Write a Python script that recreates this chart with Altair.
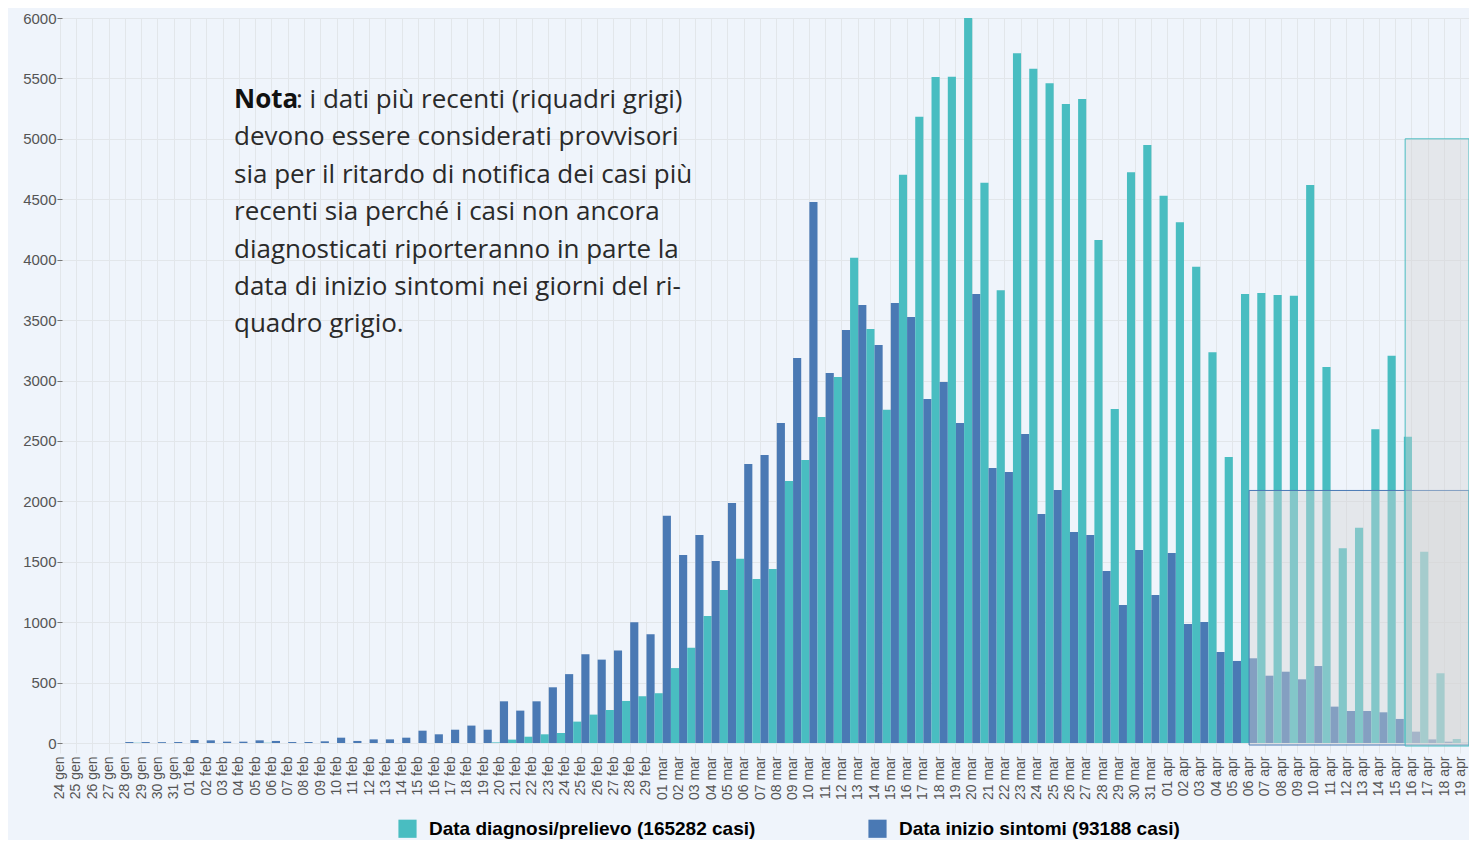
import altair as alt
import pandas as pd

# ---- categories (24 gen .. 19 apr 2020) ----
months = [("gen", 24, 31), ("feb", 1, 29), ("mar", 1, 31), ("apr", 1, 19)]
dates = [f"{d:02d} {m}" for m, a, b in months for d in range(a, b + 1)]

# ---- series values ----
diagnosi_gen = [0, 0, 0, 0, 0, 2, 0, 0]
diagnosi_feb = [0, 0, 0, 0, 0, 2, 0, 0, 0, 0, 0, 0, 0, 0, 0, 0, 0, 0, 0,
                5, 28, 52, 72, 83, 177, 235, 273, 348, 387]
diagnosi_mar = [412, 620, 788, 1052, 1267, 1525, 1358, 1440, 2168, 2342,
                2698, 3029, 4016, 3427, 2757, 4703, 5182, 5512, 5514, 6000,
                4636, 3746, 5708, 5581, 5460, 5288, 5330, 4163, 2765, 4723, 4949]
diagnosi_apr = [4530, 4309, 3942, 3233, 2367, 3716, 3724, 3708, 3702, 4618,
                3112, 1611, 1782, 2596, 3205, 2535, 1583, 577, 33]

sintomi_gen = [0, 0, 0, 0, 8, 8, 7, 8]
sintomi_feb = [25, 22, 11, 11, 22, 17, 8, 8, 14, 44, 17, 30, 30, 44, 102, 72, 110, 144, 110,
               345, 268, 345, 461, 570, 735, 690, 765, 1000, 900]
sintomi_mar = [1880, 1556, 1721, 1506, 1986, 2309, 2383, 2648, 3186, 4477,
               3062, 3418, 3625, 3294, 3641, 3526, 2847, 2988, 2648, 3716,
               2276, 2243, 2557, 1895, 2094, 1746, 1721, 1423, 1142, 1597, 1225]
sintomi_apr = [1572, 985, 1001, 753, 679, 701, 557, 590, 527, 637,
               301, 265, 265, 254, 199, 94, 30, 11, 2]

diagnosi = diagnosi_gen + diagnosi_feb + diagnosi_mar + diagnosi_apr
sintomi = sintomi_gen + sintomi_feb + sintomi_mar + sintomi_apr

series_names = ["Data diagnosi/prelievo (165282 casi)", "Data inizio sintomi (93188 casi)"]
series_colors = ["#49BDC1", "#4A79B4"]

y_ticks = list(range(0, 6001, 500))

nota_bold = "Nota"
nota_first = ": i dati più recenti (riquadri grigi)"
nota_rest = [
    "devono essere considerati provvisori",
    "sia per il ritardo di notifica dei casi più",
    "recenti sia perché i casi non ancora",
    "diagnosticati riporteranno in parte la",
    "data di inizio sintomi nei giorni del ri-",
    "quadro grigio.",
]

box_sintomi = {"start": "06 apr", "top": 2090}
box_diagnosi = {"start": "16 apr", "top": 5000}

rows = []
for i, d in enumerate(dates):
    rows.append({"data": d, "serie": series_names[0], "casi": diagnosi[i], "ord": 0})
    rows.append({"data": d, "serie": series_names[1], "casi": sintomi[i], "ord": 1})
df = pd.DataFrame(rows)

W, H = 1417, 725
BG = "#EFF4FB"
GRID = "#E2E6EA"

x_scale = alt.Scale(domain=dates, paddingInner=0, paddingOuter=0)
y_scale = alt.Scale(domain=[0, 6000], nice=False)

bars = alt.Chart(df).mark_bar().encode(
    x=alt.X("data:N", scale=x_scale, sort=dates,
            axis=alt.Axis(title=None, labelAngle=270, labelFontSize=14, labelFont="Liberation Sans",
                          labelColor="#555555", grid=True, gridColor=GRID, tickBand="center",
                          tickSize=10, tickColor=GRID, domain=False, labelPadding=3)),
    xOffset=alt.XOffset("serie:N", sort=series_names, scale=alt.Scale(paddingInner=0, paddingOuter=0)),
    y=alt.Y("casi:Q", scale=y_scale,
            axis=alt.Axis(title=None, values=y_ticks, format="d", labelFontSize=15,
                          labelFont="Liberation Sans", labelColor="#555555", grid=True,
                          gridColor=GRID, domain=False, tickSize=5, tickColor="#777777",
                          labelPadding=1, offset=-10)),
    color=alt.Color("serie:N", sort=series_names,
                    scale=alt.Scale(domain=series_names, range=series_colors),
                    legend=alt.Legend(title=None, orient="none", legendX=346, legendY=801,
                                      direction="horizontal", symbolType="square", symbolSize=330,
                                      symbolStrokeWidth=0, symbolOpacity=1,
                                      labelFont="Liberation Sans", labelFontSize=19,
                                      labelFontWeight="bold", labelColor="#000000",
                                      labelOffset=12, columnPadding=112, labelLimit=700)),
    order=alt.Order("ord:Q"),
)

box_blue = alt.Chart(pd.DataFrame([box_sintomi])).mark_rect(
    fill="#D4D4D4", fillOpacity=0.42, stroke="#4A79B4", strokeWidth=1
).encode(
    x=alt.X("start:N", scale=x_scale, bandPosition=0.5),
    x2=alt.value(W),
    y=alt.Y("top:Q", scale=y_scale),
    y2=alt.value(H + 2),
)

box_teal = alt.Chart(pd.DataFrame([box_diagnosi])).mark_rect(
    fill="#D4D4D4", fillOpacity=0.42, stroke="#49BDC1", strokeWidth=1
).encode(
    x=alt.X("start:N", scale=x_scale, bandPosition=0.08),
    x2=alt.value(W),
    y=alt.Y("top:Q", scale=y_scale),
    y2=alt.value(H + 3),
)

txt_font = "Open Sans"
txt_size = 26
nota1 = alt.Chart().mark_text(
    font=txt_font, fontSize=txt_size, fontWeight="bold", color="#111111",
    align="left", baseline="alphabetic"
).encode(x=alt.value(182), y=alt.value(90), text=alt.value(nota_bold))

nota2 = alt.Chart().mark_text(
    font=txt_font, fontSize=txt_size, color="#2a2a2a", align="left", baseline="alphabetic"
).encode(x=alt.value(244), y=alt.value(90), text=alt.value(nota_first))

nota3 = alt.Chart().mark_text(
    font=txt_font, fontSize=txt_size, color="#2a2a2a", align="left", baseline="alphabetic",
    lineHeight=37.4
).encode(x=alt.value(182), y=alt.value(127.4), text=alt.value(nota_rest))

chart = alt.layer(bars, box_blue, box_teal, nota1, nota2, nota3).properties(
    width=W, height=H,
    background=BG,
    padding={"left": 44, "top": 10, "right": 0, "bottom": 97},
    autosize=alt.AutoSizeParams(type="none"),
).configure_view(stroke=None)

chart.save("out.html", embed_options={"renderer": "svg", "actions": False})
